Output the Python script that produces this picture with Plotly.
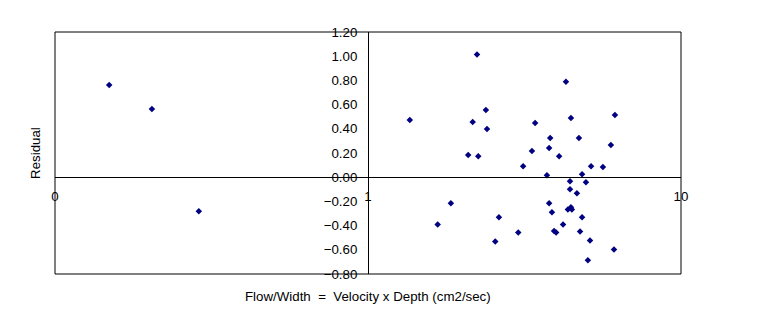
import plotly.graph_objects as go

# Flow/Width (cm2/sec) and residuals
flow = [0.149, 0.204, 0.288,
        1.36, 1.67, 1.84, 2.09, 2.16, 2.23, 2.25, 2.38, 2.40, 2.55, 2.62,
        3.02, 3.13, 3.34, 3.42, 3.73, 3.79, 3.79, 3.82, 3.87, 3.93, 3.99,
        4.08, 4.20, 4.29, 4.35, 4.42, 4.42, 4.45, 4.45, 4.48, 4.65, 4.72,
        4.76, 4.83, 4.83, 4.97, 5.04, 5.12, 5.16, 5.63, 5.97, 6.11, 6.15]
residual = [0.763, 0.564, -0.282,
            0.473, -0.390, -0.216, 0.183, 0.456, 1.015, 0.174, 0.556, 0.398, -0.531, -0.332,
            -0.456, 0.091, 0.216, 0.448, 0.017, 0.241, -0.216, 0.324, -0.290, -0.445, -0.456,
            0.174, -0.390, 0.788, -0.266, -0.033, -0.100, 0.490, -0.249, -0.266, -0.133, 0.324,
            -0.448, 0.025, -0.332, -0.041, -0.686, -0.523, 0.091, 0.085, 0.266, -0.598, 0.515]

x_tickvals = [0.1, 1, 10]
x_ticktext = ["0", "1", "10"]
y_tickvals = [-0.8, -0.6, -0.4, -0.2, 0.0, 0.2, 0.4, 0.6, 0.8, 1.0, 1.2]

x_title = "Flow/Width\u00a0\u00a0=\u00a0\u00a0Velocity x Depth (cm2/sec)"
y_title = "Residual"

font = dict(family="Liberation Sans, Arial, sans-serif", size=13.3, color="black")

fig = go.Figure()
fig.add_trace(go.Scatter(
    x=flow, y=residual, mode="markers",
    marker=dict(symbol="diamond", size=5, color="#000080"),
    showlegend=False,
))

fig.update_layout(
    width=772, height=328,
    margin=dict(l=55, r=91, t=32, b=54),
    paper_bgcolor="white", plot_bgcolor="white",
    font=font,
    xaxis=dict(
        type="log", range=[-1, 1], domain=[0, 1],
        anchor="free", position=0.4,
        showgrid=False, zeroline=False,
        showline=True, linecolor="black", linewidth=1,
        ticks="", tickvals=x_tickvals, ticktext=x_ticktext,
        ticklabelstandoff=7,
        tickfont=font,
    ),
    yaxis=dict(
        range=[-0.8, 1.2], domain=[0, 1],
        anchor="free", position=0.5,
        showgrid=False, zeroline=False,
        showline=True, linecolor="black", linewidth=1,
        ticks="", tickvals=y_tickvals, tickformat=".2f",
        ticklabelstandoff=8,
        tickfont=font,
    ),
    shapes=[dict(type="rect", xref="paper", yref="paper", x0=0, x1=1, y0=0, y1=1,
                 line=dict(color="black", width=1), fillcolor="rgba(0,0,0,0)", layer="below")],
    annotations=[
        dict(text=x_title, xref="paper", yref="paper", x=0.5, y=-0.095,
             xanchor="center", yanchor="middle", showarrow=False, font=font),
        dict(text=y_title, xref="paper", yref="paper", x=-0.032, y=0.5,
             xanchor="center", yanchor="middle", textangle=-90, showarrow=False, font=font),
    ],
)

fig.write_html("out.html")
